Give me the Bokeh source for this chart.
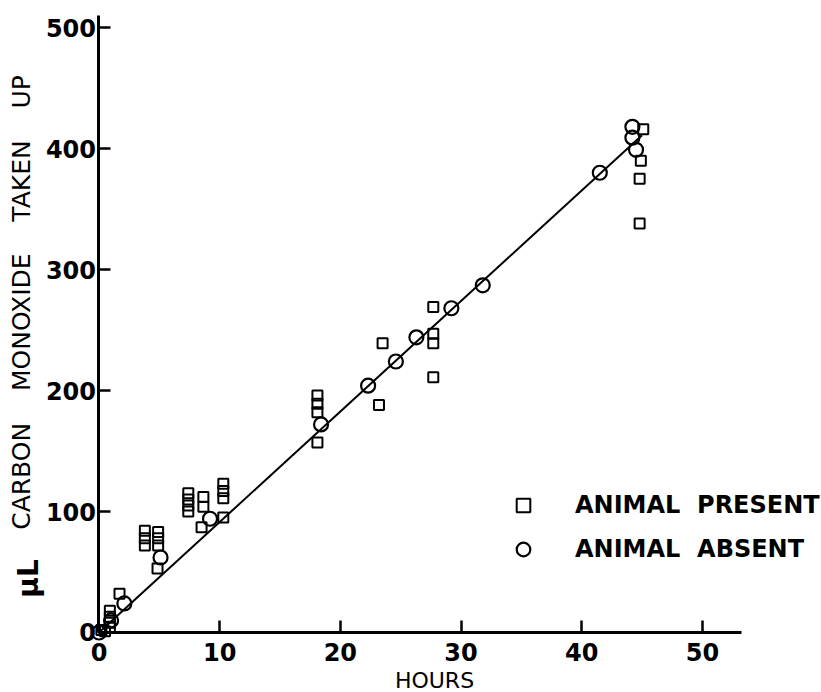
from bokeh.plotting import figure
from bokeh.models import Range1d, Label, Legend, LegendItem, FixedTicker
from bokeh.embed import file_html
from bokeh.resources import INLINE

# ---- data ----
present_hours = [0.2, 0.5, 0.9, 0.9, 0.9, 0.9, 1.7,
                 3.8, 3.8, 3.8, 4.9, 4.9, 4.9, 4.85,
                 7.4, 7.4, 7.4, 7.4, 8.65, 8.65, 8.5,
                 10.3, 10.3, 10.3, 10.3,
                 18.1, 18.1, 18.1, 18.1, 23.2, 23.5,
                 27.7, 27.7, 27.7, 27.7,
                 45.1, 44.9, 44.8, 44.8]
present_co = [2, 1, 18, 13, 8, 4, 32,
              84, 78, 72, 83, 78, 72, 53,
              115, 110, 105, 100, 112, 104, 87,
              123, 117, 111, 95,
              196, 189, 182, 157, 188, 239,
              269, 247, 239, 211,
              416, 390, 375, 338]

absent_hours = [0.0, 1.0, 2.1, 5.1, 9.2, 18.4, 22.3, 24.6, 26.3, 29.2, 31.8, 41.5, 44.2, 44.2, 44.5]
absent_co = [0, 10, 24, 62, 94, 172, 204, 224, 244, 268, 287, 380, 418, 409, 399]

fit_hours = [0, 45]
fit_co = [0, 411]

x_ticks = [0, 10, 20, 30, 40, 50]
y_ticks = [0, 100, 200, 300, 400, 500]
x_axis_bounds = (0, 53.2)
y_axis_bounds = (0, 510)

FONT = "DejaVu Sans"

p = figure(width=821, height=692, output_backend="svg", toolbar_location=None,
           x_range=Range1d(-8.162, 59.87), y_range=Range1d(-49.6, 522.4),
           min_border_left=0, min_border_right=0, min_border_top=0, min_border_bottom=0)

p.background_fill_color = "white"
p.border_fill_color = "white"
p.outline_line_color = None
p.grid.visible = False

for ax in (p.xaxis[0], p.yaxis[0]):
    ax.fixed_location = 0
    ax.axis_line_width = 3
    ax.axis_line_color = "black"
    ax.major_tick_line_width = 2.5
    ax.major_tick_line_color = "black"
    ax.major_tick_in = 12
    ax.major_tick_out = 0
    ax.minor_tick_line_color = None
    ax.major_label_text_font = FONT
    ax.major_label_text_font_style = "bold"
    ax.major_label_text_font_size = "24px"
    ax.major_label_text_color = "black"

p.xaxis.ticker = FixedTicker(ticks=x_ticks)
p.yaxis.ticker = FixedTicker(ticks=y_ticks)
p.xaxis.bounds = x_axis_bounds
p.yaxis.bounds = y_axis_bounds
p.xaxis.major_label_standoff = 11
p.yaxis.major_label_standoff = 3

# fitted line
p.line(fit_hours, fit_co, line_color="black", line_width=2)

# data
sq = p.scatter(present_hours, present_co, marker="square", size=10,
               fill_color=None, line_color="black", line_width=2)
ci = p.scatter(absent_hours, absent_co, marker="circle", size=14,
               fill_color=None, line_color="black", line_width=2.2)

legend = Legend(items=[LegendItem(label="ANIMAL\u00a0\u00a0PRESENT", renderers=[sq]),
                       LegendItem(label="ANIMAL\u00a0\u00a0ABSENT", renderers=[ci])],
                location=(506, 126), orientation="vertical",
                glyph_width=34, glyph_height=34, label_height=34, spacing=10,
                padding=0, margin=0, label_standoff=35,
                border_line_color=None, background_fill_alpha=0,
                label_text_font=FONT, label_text_font_style="bold",
                label_text_font_size="24px", label_text_color="black")
p.add_layout(legend)

# axis titles
p.add_layout(Label(x=434, y=12, x_units="screen", y_units="screen",
                   text="HOURS", text_font=FONT, text_font_size="22px",
                   text_align="center", text_baseline="middle", text_color="black"))
p.add_layout(Label(x=21, y=390, x_units="screen", y_units="screen", angle=1.5707963,
                   text="CARBON\u00a0\u00a0\u00a0\u00a0MONOXIDE\u00a0\u00a0\u00a0\u00a0TAKEN\u00a0\u00a0\u00a0\u00a0UP",
                   text_font=FONT, text_font_size="25px",
                   text_align="center", text_baseline="middle", text_color="black"))
p.add_layout(Label(x=28, y=114, x_units="screen", y_units="screen", angle=1.5707963,
                   text="\u03bcL", text_font=FONT, text_font_size="28px", text_font_style="bold",
                   text_align="center", text_baseline="middle", text_color="black"))

open("out.html", "w").write(file_html(p, INLINE))
